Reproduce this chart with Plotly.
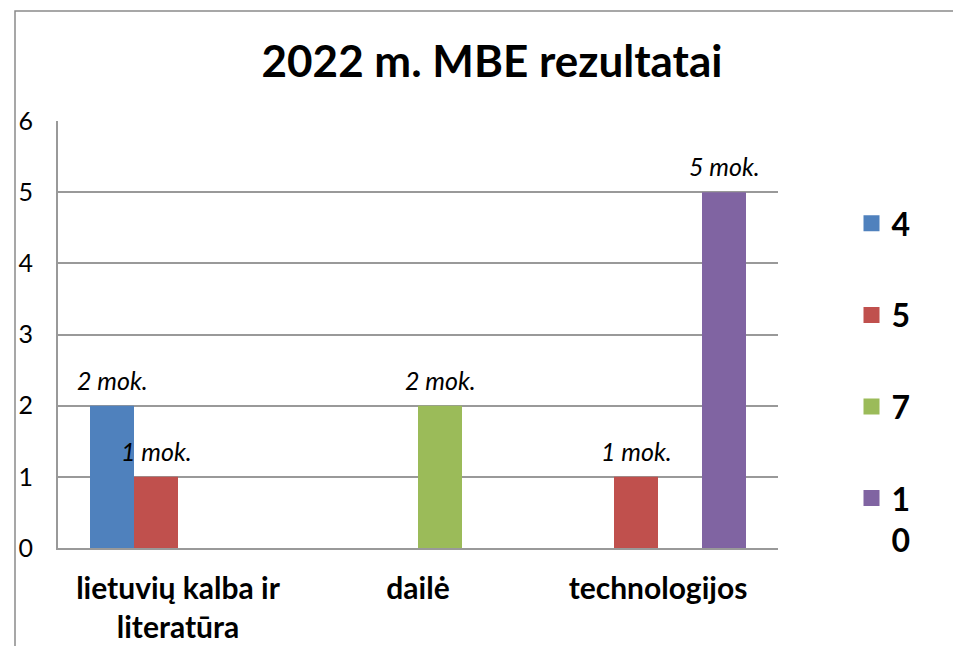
import plotly.graph_objects as go

categories = ["lietuvių kalba ir<br>literatūra", "dailė", "technologijos"]
series_names = ["4", "5", "7", "10"]
legend_labels = ["4", "5", "7", "1<br>0"]
v4 = [2, None, None]
v5 = [1, None, 1]
v7 = [None, 2, None]
v10 = [None, None, 5]
series_values = [v4, v5, v7, v10]
colors = ["#4F81BD", "#C0504D", "#9BBB59", "#8064A2"]
title_text = "2022 m. MBE rezultatai"

W, H = 953, 646
L, R, T, B = 58, 175, 121, 98
pw, ph = W - L - R, H - T - B
bargap = 64 / 240

FONT = "Lato"

fig = go.Figure()
for i, (name, lab, vals, col) in enumerate(zip(series_names, legend_labels, series_values, colors)):
    fig.add_trace(go.Bar(
        x=categories, y=vals, name=lab, marker=dict(color=col, line=dict(width=0)),
        legendgroup=name, showlegend=False,
    ))
    # legend entry with a larger square symbol
    fig.add_trace(go.Scatter(
        x=[None], y=[None], mode="markers", name=lab, legendgroup=name,
        marker=dict(symbol="square", size=21, color=col, line=dict(width=0)),
        showlegend=True, hoverinfo="skip",
    ))

# data labels
n = len(series_values)
slot = (1 - bargap) / n
annotations = []
for i, vals in enumerate(series_values):
    for j, v in enumerate(vals):
        if v is None:
            continue
        annotations.append(dict(
            x=j + (i - (n - 1) / 2) * slot, y=v, xref="x", yref="y",
            text=f"{v} mok.", showarrow=False, yanchor="middle", yshift=26,
            font=dict(family=FONT, size=25, color="black", style="italic"),
        ))

fig.update_layout(
    width=W, height=H,
    margin=dict(l=L, r=R, t=T, b=B, pad=0, autoexpand=False),
    paper_bgcolor="white", plot_bgcolor="white",
    barmode="group", bargap=bargap, bargroupgap=0,
    title=dict(text=f"<b>{title_text}</b>", x=(492 - L) / pw, xref="paper", xanchor="center",
               y=1 - 62 / H, yref="container", yanchor="middle",
               font=dict(family=FONT, size=44, color="black")),
    font=dict(family=FONT, color="black"),
    annotations=annotations,
    legend=dict(x=(851.5 - L) / pw, xanchor="left", y=(H - B - 196) / ph, yanchor="top",
                yref="paper", traceorder="grouped", tracegroupgap=47, valign="top",
                itemsizing="trace",
                font=dict(family=FONT, size=32, color="black", weight="bold"),
                bgcolor="rgba(0,0,0,0)"),
    showlegend=True,
    shapes=[dict(type="rect", xref="paper", yref="paper",
                 x0=(15 - L) / pw, x1=(W + 20 - L) / pw,
                 y0=(H - B - (H + 20)) / ph, y1=(H - B - 11) / ph,
                 line=dict(color="#8a8a8a", width=1.5), layer="below")],
)
fig.update_yaxes(range=[0, 6], dtick=1, showgrid=True, gridcolor="#999999", gridwidth=2,
                 showline=True, linecolor="#999999", linewidth=2, zeroline=False,
                 ticks="", ticklabelstandoff=18, automargin=False,
                 tickfont=dict(family=FONT, size=25, color="black"), fixedrange=True)
fig.update_xaxes(showline=True, linecolor="#999999", linewidth=2, ticks="",
                 ticklabelstandoff=13, automargin=False,
                 tickfont=dict(family=FONT, size=30, color="black", weight="bold"))

fig.write_html("out.html", config={"displayModeBar": False},
               post_script="document.body.style.margin='0';document.body.style.overflow='hidden';")
